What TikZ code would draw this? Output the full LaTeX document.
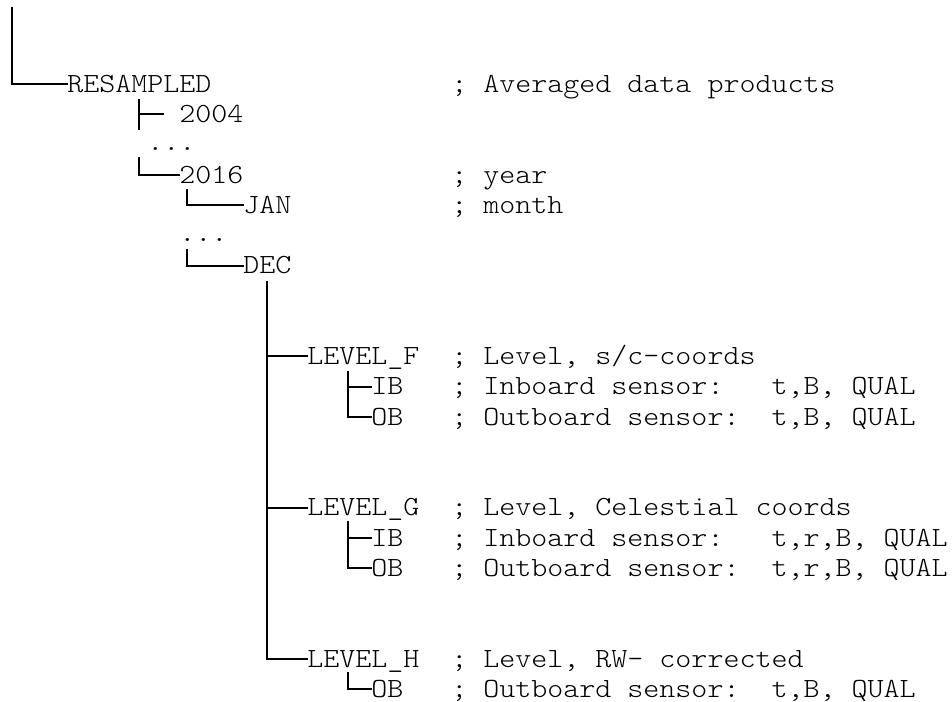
\documentclass[tikz,border=0pt]{standalone}
\usepackage{fontspec}
\setmonofont[Extension=.otf,FakeStretch=1.1]{lmmonolt10-regular}
\usepackage{tikz}
\usetikzlibrary{calc}
\tikzstyle{every node}=[font=\ttfamily\fontsize{20.8}{24}\selectfont]
\tikzset{entry/.style={anchor=west, inner sep=0pt, text height=12.7pt, text depth=0pt},
         branch/.style={line width=1.5pt, line cap=rect}}
\begin{document}
\begin{tikzpicture}[x=0.75pt,y=-0.75pt]
\useasboundingbox (0,0) rectangle (952,702);
% tree entries
\node [entry] (resampled) at (67,84) {RESAMPLED};
\node [entry] (y2004) at (179,114.25) {2004};
\node [entry] (dotsa) at (147,142.5) {...};
\node [entry] (y2016) at (179,174.75) {2016};
\node [entry] (jan) at (243,205) {JAN};
\node [entry] (dotsb) at (179,233) {...};
\node [entry] (dec) at (243,265.5) {DEC};
\node [entry] (levf) at (307,356.25) {LEVEL\_F};
\node [entry] (levfib) at (371,386.5) {IB};
\node [entry] (levfob) at (371,416.75) {OB};
\node [entry] (levg) at (307,507.5) {LEVEL\_G};
\node [entry] (levgib) at (371,537.75) {IB};
\node [entry] (levgob) at (371,568) {OB};
\node [entry] (levh) at (307,658.75) {LEVEL\_H};
\node [entry] (levhob) at (371,689) {OB};
% comments column
\node [entry] (cresampled) at (451,84) {; Averaged data products};
\node [entry] (cyear) at (451,174.75) {; year};
\node [entry] (cmonth) at (451,205) {; month};
\node [entry] (clevf) at (451,356.25) {; Level, s/c-coords};
\node [entry] (clevfib) at (451,386.5) {; Inboard sensor:~~~t,B, QUAL};
\node [entry] (clevfob) at (451,416.75) {; Outboard sensor:~~t,B, QUAL};
\node [entry] (clevg) at (451,507.5) {; Level, Celestial coords};
\node [entry] (clevgib) at (451,537.75) {; Inboard sensor:~~~t,r,B, QUAL};
\node [entry] (clevgob) at (451,568) {; Outboard sensor:~~t,r,B, QUAL};
\node [entry] (clevh) at (451,658.75) {; Level, RW- corrected};
\node [entry] (clevhob) at (451,689) {; Outboard sensor:~~t,B, QUAL};
% branch tops
\coordinate (root) at (12,8);
\coordinate (yeartop) at (139,100);
\coordinate (yearend) at (139,129);
\coordinate (tip2004) at (163,114.25);
\coordinate (y2016top) at (139,158);
\coordinate (jantop) at (187,190);
\coordinate (dectop) at (187,250);
\coordinate (trunk) at (267,282);
\coordinate (ftop) at (348,372);
\coordinate (gtop) at (348,522);
\coordinate (htop) at (348,673);
% branches
\draw [branch] (root) |- (resampled.west);
\draw [branch] (yeartop) -- (yearend);
\draw [branch] (yeartop |- tip2004) -- (tip2004);
\draw [branch] (y2016top) |- (y2016.west);
\draw [branch] (jantop) |- (jan.west);
\draw [branch] (dectop) |- (dec.west);
\draw [branch] (trunk) |- (levh.west);
\draw [branch] (trunk |- levf.west) -- (levf.west);
\draw [branch] (trunk |- levg.west) -- (levg.west);
\draw [branch] (ftop) |- (levfob.west);
\draw [branch] (ftop |- levfib.west) -- (levfib.west);
\draw [branch] (gtop) |- (levgob.west);
\draw [branch] (gtop |- levgib.west) -- (levgib.west);
\draw [branch] (htop) |- (levhob.west);
\end{tikzpicture}
\end{document}
